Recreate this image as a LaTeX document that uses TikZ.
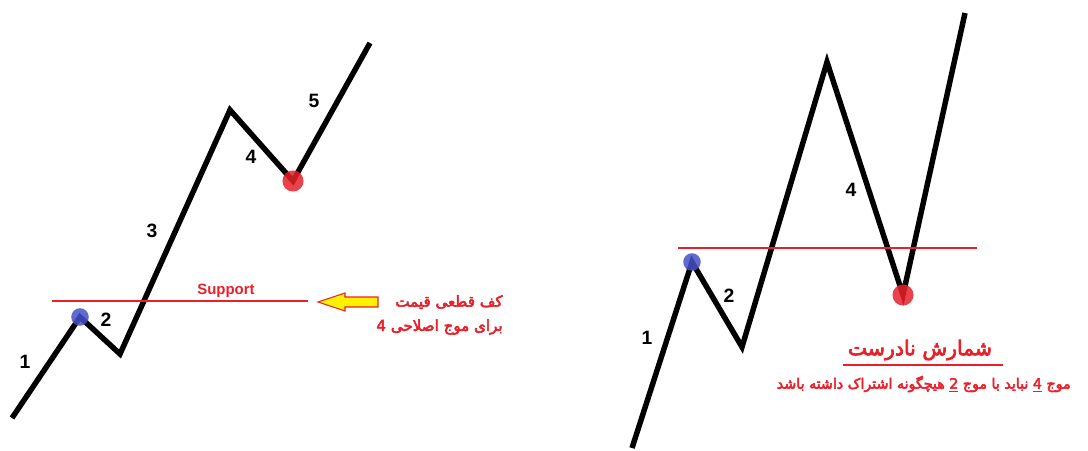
\documentclass[tikz,border=0pt]{standalone}
\usepackage{fontspec}
\setmainfont{Liberation Sans}
\newfontfamily\farsi[Script=Arabic, AutoFakeBold=3.5]{DejaVu Sans}
\TeXXeTstate=1
\usetikzlibrary{arrows.meta, positioning, calc}
\definecolor{cred}{HTML}{E8202A}
\definecolor{cblue}{HTML}{4650C8}
\definecolor{cyellow}{HTML}{FFF200}
\tikzset{
  wave/.style={draw=black, line width=3.1pt, line join=miter},
  num/.style={font=\bfseries\fontsize{11}{13}\selectfont, inner sep=0pt},
  level/.style={draw=cred, line width=0.6pt},
  dotblue/.style={circle, fill=cblue, fill opacity=0.85, minimum size=10pt, inner sep=0pt},
  dotred/.style={circle, fill=cred, fill opacity=0.85, minimum size=12pt, inner sep=0pt},
  fa/.style={text=cred, font=\farsi\bfseries\fontsize{#1}{#1}\selectfont, inner sep=0pt},
  fa/.default=8.6,
}
\begin{document}
\begin{tikzpicture}[x=0.02cm, y=-0.02cm]
  \useasboundingbox (0,0) rectangle (1088,450);
  % left: correct count
  \coordinate (a0) at (12,418);
  \coordinate (a1) at (80,317);
  \coordinate (a2) at (120,354);
  \coordinate (a3) at (230,110);
  \coordinate (a4) at (293,181);
  \coordinate (a5) at (370,43);
  \draw[wave] (a0) -- (a1) -- (a2) -- (a3) -- (a4) -- (a5);
  \coordinate (supL) at (52,301);
  \coordinate (supR) at (308,301);
  \draw[level] (supL) -- (supR);
  \node[text=cred, font=\bfseries\fontsize{8.5}{10}\selectfont, inner sep=0pt] (suptxt) at (226,291) {Support};
  \node[dotblue] (lowL) at (a1) {};
  \node[dotred] (highL) at (a4) {};
  \node[num] (l1) at (25,362) {1};
  \node[num] (l2) at (106,320) {2};
  \node[num] (l3) at (152,231) {3};
  \node[num] (l4) at (251,157) {4};
  \node[num] (l5) at (314,101) {5};
  \draw[draw=cred, fill=cyellow, line width=0.6pt]
    (318,302) -- (345,293) -- (345,297) -- (378,297) -- (378,307) -- (345,307) -- (345,311) -- cycle;
  \node[fa, anchor=east] (note1) at (503,302) {\beginR کف قطعی قیمت\endR};
  \node[fa, anchor=east] (note2) at (503,327) {\beginR برای موج اصلاحی 4\endR};
  % right: wrong count
  \coordinate (b0) at (632,448);
  \coordinate (b1) at (692,262);
  \coordinate (b2) at (742,347);
  \coordinate (b3) at (827,62);
  \coordinate (b4) at (903,295);
  \coordinate (b5) at (965,13);
  \draw[wave] (b0) -- (b1) -- (b2) -- (b3) -- (b4) -- (b5);
  \coordinate (resL) at (678,248);
  \coordinate (resR) at (977,248);
  \draw[level] (resL) -- (resR);
  \node[dotblue] (lowR) at (b1) {};
  \node[dotred] (highR) at (b4) {};
  \node[num] (r1) at (647,338) {1};
  \node[num] (r2) at (729,296) {2};
  \node[num] (r4) at (851,190) {4};
  \node[fa=11.6] (title) at (920,350) {\beginR شمارش نادرست\endR};
  \coordinate (ulL) at (843,365);
  \coordinate (ulR) at (1003,365);
  \draw[level] (ulL) -- (ulR);
  \node[fa=8.1, anchor=east] (note3) at (1071,384) {\beginR موج \underline{4} نباید با موج \underline{2} هیچگونه اشتراک داشته باشد\endR};
\end{tikzpicture}
\end{document}
